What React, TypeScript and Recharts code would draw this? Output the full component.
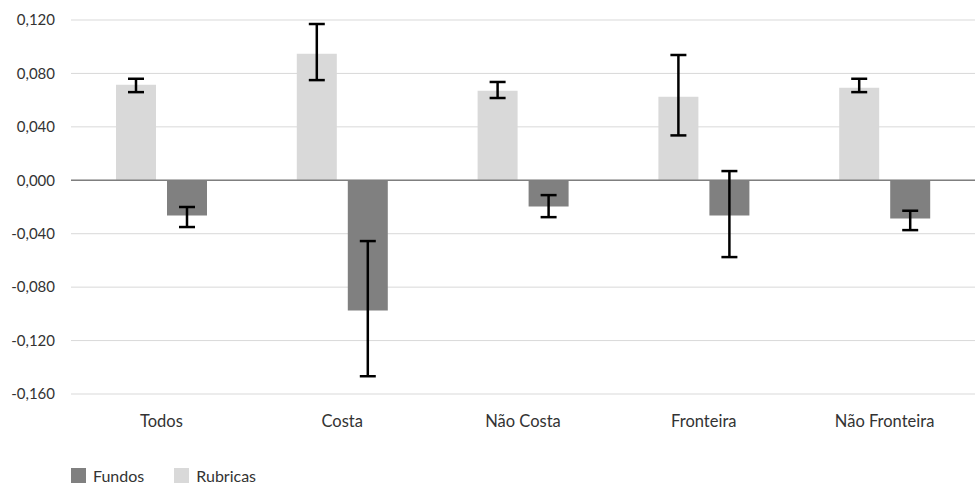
import { BarChart, Bar, XAxis, YAxis, CartesianGrid, ErrorBar, ReferenceLine, Legend } from "recharts";

const categories = ["Todos", "Costa", "Não Costa", "Fronteira", "Não Fronteira"];
const rubricas = [0.0715, 0.0948, 0.067, 0.0625, 0.0693];
const rubricasLow = [0.066, 0.075, 0.0616, 0.0336, 0.066];
const rubricasHigh = [0.076, 0.117, 0.0736, 0.0938, 0.076];
const fundos = [-0.0264, -0.0975, -0.0196, -0.0264, -0.0286];
const fundosLow = [-0.035, -0.1467, -0.0276, -0.0575, -0.0373];
const fundosHigh = [-0.02, -0.0455, -0.0111, 0.0069, -0.0228];
const yTicks = [-0.16, -0.12, -0.08, -0.04, 0, 0.04, 0.08, 0.12];

const LIGHT = "#d9d9d9";
const DARK = "#808080";
const FONT = "Lato, 'Open Sans', sans-serif";

const data = categories.map((name, i) => ({
    name,
    rubricas: rubricas[i],
    rubricasErr: [rubricas[i] - rubricasLow[i], rubricasHigh[i] - rubricas[i]],
    fundos: fundos[i],
    fundosErr: [fundos[i] - fundosLow[i], fundosHigh[i] - fundos[i]],
}));

const fmt = (v: number) => v.toFixed(3).replace(".", ",");

// legend drawn by hand: Fundos first, Rubricas second, like the original
function LegendBox() {
    const items = [
        { label: "Fundos", color: DARK },
        { label: "Rubricas", color: LIGHT },
    ];
    return (
        <div style={{ display: "flex", height: 20, alignItems: "center", fontFamily: FONT, fontSize: 16, color: "#333", paddingLeft: 71 }}>
            {items.map((it) => (
                <div key={it.label} style={{ display: "flex", alignItems: "center", marginRight: 30 }}>
                    <span style={{ width: 15, height: 15, background: it.color, marginRight: 7, display: "inline-block" }} />
                    <span>{it.label}</span>
                </div>
            ))}
        </div>
    );
}

export default function App() {
    return (
        <div style={{ position: "absolute", left: 0, top: 0, background: "#fff" }}>
            <BarChart
                width={975}
                height={485}
                data={data}
                margin={{ top: 20, right: 0, left: 0, bottom: 0 }}
                barSize={40}
                barGap={11}
            >
                <CartesianGrid stroke="#d9d9d9" vertical={false} />
                <XAxis
                    dataKey="name"
                    axisLine={false}
                    tickLine={false}
                    tickMargin={15}
                    height={71}
                    tick={{ fill: "#333", fontSize: 16.5, fontFamily: FONT }}
                />
                <YAxis
                    domain={[-0.16, 0.12]}
                    ticks={yTicks}
                    tickFormatter={fmt}
                    axisLine={false}
                    tickLine={false}
                    tickMargin={10}
                    width={71}
                    tick={{ fill: "#333", fontSize: 15, fontFamily: FONT }}
                />
                <ReferenceLine y={0} stroke="#7f7f7f" strokeWidth={1.5} />
                <Legend
                    verticalAlign="bottom"
                    height={20}
                    content={() => <LegendBox />}
                />
                <Bar dataKey="rubricas" fill={LIGHT} isAnimationActive={false}>
                    <ErrorBar dataKey="rubricasErr" width={8} stroke="#000" strokeWidth={2.5} />
                </Bar>
                <Bar dataKey="fundos" fill={DARK} isAnimationActive={false}>
                    <ErrorBar dataKey="fundosErr" width={8} stroke="#000" strokeWidth={2.5} />
                </Bar>
            </BarChart>
        </div>
    );
}
